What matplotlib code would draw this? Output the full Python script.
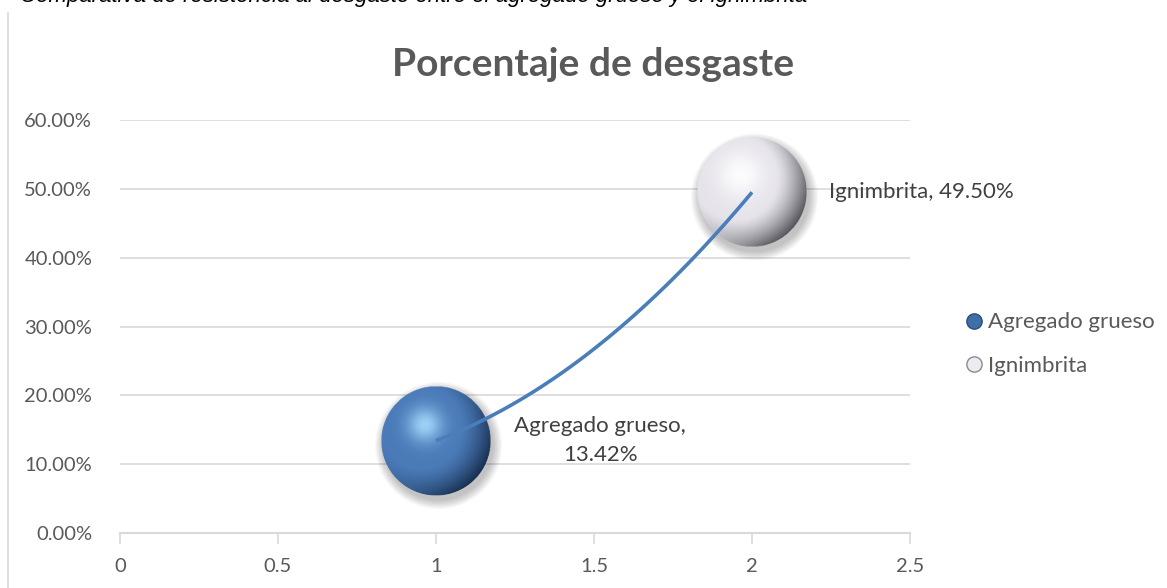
import numpy as np
import matplotlib.pyplot as plt
from matplotlib.patches import Ellipse
from matplotlib.lines import Line2D
from matplotlib.ticker import PercentFormatter

plt.rcParams['font.family'] = ['Lato', 'DejaVu Sans']

# Data
materials = ["Agregado grueso", "Ignimbrita"]
x_vals = [1, 2]
wear_pct = [0.1342, 0.4950]
x_ticks = [0, 0.5, 1, 1.5, 2, 2.5]
x_tick_labels = ["0", "0.5", "1", "1.5", "2", "2.5"]
y_ticks = [0, 0.1, 0.2, 0.3, 0.4, 0.5, 0.6]

GREY = "#595959"
GRID = "#d9d9d9"
BUBBLE_PX = 55  # bubble radius in pixels


def sphere_rgba(base, highlight, dark, n=240, spot=0.10):
    # radial shading: bright spot upper-left, dark rim towards lower-right
    v, u = np.mgrid[-1:1:n * 1j, -1:1:n * 1j]
    r = np.sqrt(u ** 2 + v ** 2)
    base = np.array(base)
    highlight = np.array(highlight)
    dark = np.array(dark)
    d = np.sqrt((u + 0.2) ** 2 + (v + 0.3) ** 2)
    hl = (np.exp(-(d ** 2) / spot) * 0.9)[..., None]
    rim = np.clip((np.sqrt((u + 0.3) ** 2 + (v + 0.25) ** 2) - 0.75) / 0.75, 0, 1)[..., None] ** 1.4
    col = base * (1 - rim) + dark * rim
    col = col * (1 - hl) + highlight * hl
    # lighter reflection along the lower-left edge
    refl = (np.clip(r - 0.75, 0, 1) / 0.25 * np.clip(-u + 0.2, 0, 1) * np.clip(v + 0.2, 0, 1))[..., None] * 0.45
    col = col * (1 - refl) + base * refl
    alpha = (r <= 1).astype(float)[..., None]
    return np.concatenate([np.clip(col, 0, 1), alpha], axis=2)


blue_img = sphere_rgba((0.29, 0.48, 0.72), (0.65, 0.86, 1.0), (0.04, 0.10, 0.20))
white_img = sphere_rgba((0.90, 0.89, 0.92), (1.0, 1.0, 1.0), (0.18, 0.18, 0.20), spot=0.18)
images = [blue_img, white_img]

fig = plt.figure(figsize=(11.67, 5.88), dpi=100)
ax = fig.add_axes([120 / 1167, 55 / 588, 790 / 1167, 413 / 588])

ax.set_xlim(0, 2.5)
ax.set_ylim(0, 0.6)
ax.set_xticks(x_ticks)
ax.set_xticklabels(x_tick_labels)
ax.set_yticks(y_ticks)
ax.yaxis.set_major_formatter(PercentFormatter(1.0, decimals=2))
ax.grid(axis="y", color=GRID, linewidth=1.2)
ax.set_axisbelow(True)
for side in ["top", "right", "left"]:
    ax.spines[side].set_visible(False)
ax.spines["bottom"].set_color(GRID)
ax.spines["bottom"].set_linewidth(1.5)
ax.tick_params(axis="x", colors=GRID, length=8, width=1.2, direction="out", pad=10)
ax.tick_params(axis="y", length=0, pad=20)
for lbl in ax.get_xticklabels() + ax.get_yticklabels():
    lbl.set_color(GREY)
    lbl.set_fontsize(14.5)

# convert a pixel radius into data units
fig.canvas.draw()
rx = BUBBLE_PX * 2.5 / ax.bbox.width
ry = BUBBLE_PX * 0.6 / ax.bbox.height

for xv, yv, img in zip(x_vals, wear_pct, images):
    # soft shadow under the bubble
    for k in range(8):
        s = 1.0 + 0.022 * k
        ax.add_patch(Ellipse((xv + 0.008, yv - 0.007), 2 * rx * s, 2 * ry * s,
                             color="black", alpha=0.03, lw=0, zorder=2))
    im = ax.imshow(img, extent=[xv - rx, xv + rx, yv - ry, yv + ry],
                   aspect="auto", interpolation="bilinear", zorder=3)
    im.set_clip_path(Ellipse((xv, yv), 2 * rx, 2 * ry, transform=ax.transData))

# curved connector between the two bubbles (quadratic Bezier)
p0 = np.array([x_vals[0], wear_pct[0]])
p2 = np.array([x_vals[1], wear_pct[1]])
p1 = np.array([(p0[0] + p2[0]) / 2, p0[1] + 0.086])
t = np.linspace(0, 1, 100)[:, None]
curve = (1 - t) ** 2 * p0 + 2 * t * (1 - t) * p1 + t ** 2 * p2
ax.plot(curve[:, 0], curve[:, 1], color="#4a7ebb", linewidth=2.6, zorder=4,
        solid_capstyle="butt")

# data labels
ax.text(x_vals[1] + 0.245, wear_pct[1], f"{materials[1]}, {wear_pct[1] * 100:.2f}%",
        fontsize=16, color="#404040", va="center", ha="left", zorder=5)
ax.text(x_vals[0] + 0.52, wear_pct[0], f"{materials[0]},\n{wear_pct[0] * 100:.2f}%",
        fontsize=16, color="#404040", va="center", ha="center", linespacing=1.6, zorder=5)

fig.text(593 / 1167, 1 - 64 / 588, "Porcentaje de desgaste", fontsize=28, fontweight="bold",
         color=GREY, ha="center", va="center")

# legend
handles = [
    Line2D([], [], marker="o", linestyle="", markersize=11,
           markerfacecolor="#3f6fa8", markeredgecolor="#2a4d78"),
    Line2D([], [], marker="o", linestyle="", markersize=11,
           markerfacecolor="#ececf0", markeredgecolor="#8a8a92"),
]
leg = fig.legend(handles, materials, loc="center left", bbox_to_anchor=(952 / 1167, 1 - 344 / 588),
                 frameon=False, fontsize=16, handletextpad=0.1, labelspacing=1.05,
                 handlelength=1.0, borderpad=0)
for txt in leg.get_texts():
    txt.set_color(GREY)

# chart border (left edge) and the caption line clipped at the top
fig.add_artist(Line2D([8 / 1167, 8 / 1167], [0, 1 - 13 / 588], color=GRID, linewidth=1.2))
fig.text(20 / 1167, 1 - 2 / 588,
         "Comparativa de resistencia al desgaste entre el agregado grueso y el ignimbrita",
         fontsize=16, style="italic", color="black", family=["Liberation Sans", "DejaVu Sans"],
         va="baseline", ha="left")

fig.savefig("out.png", dpi=100)
